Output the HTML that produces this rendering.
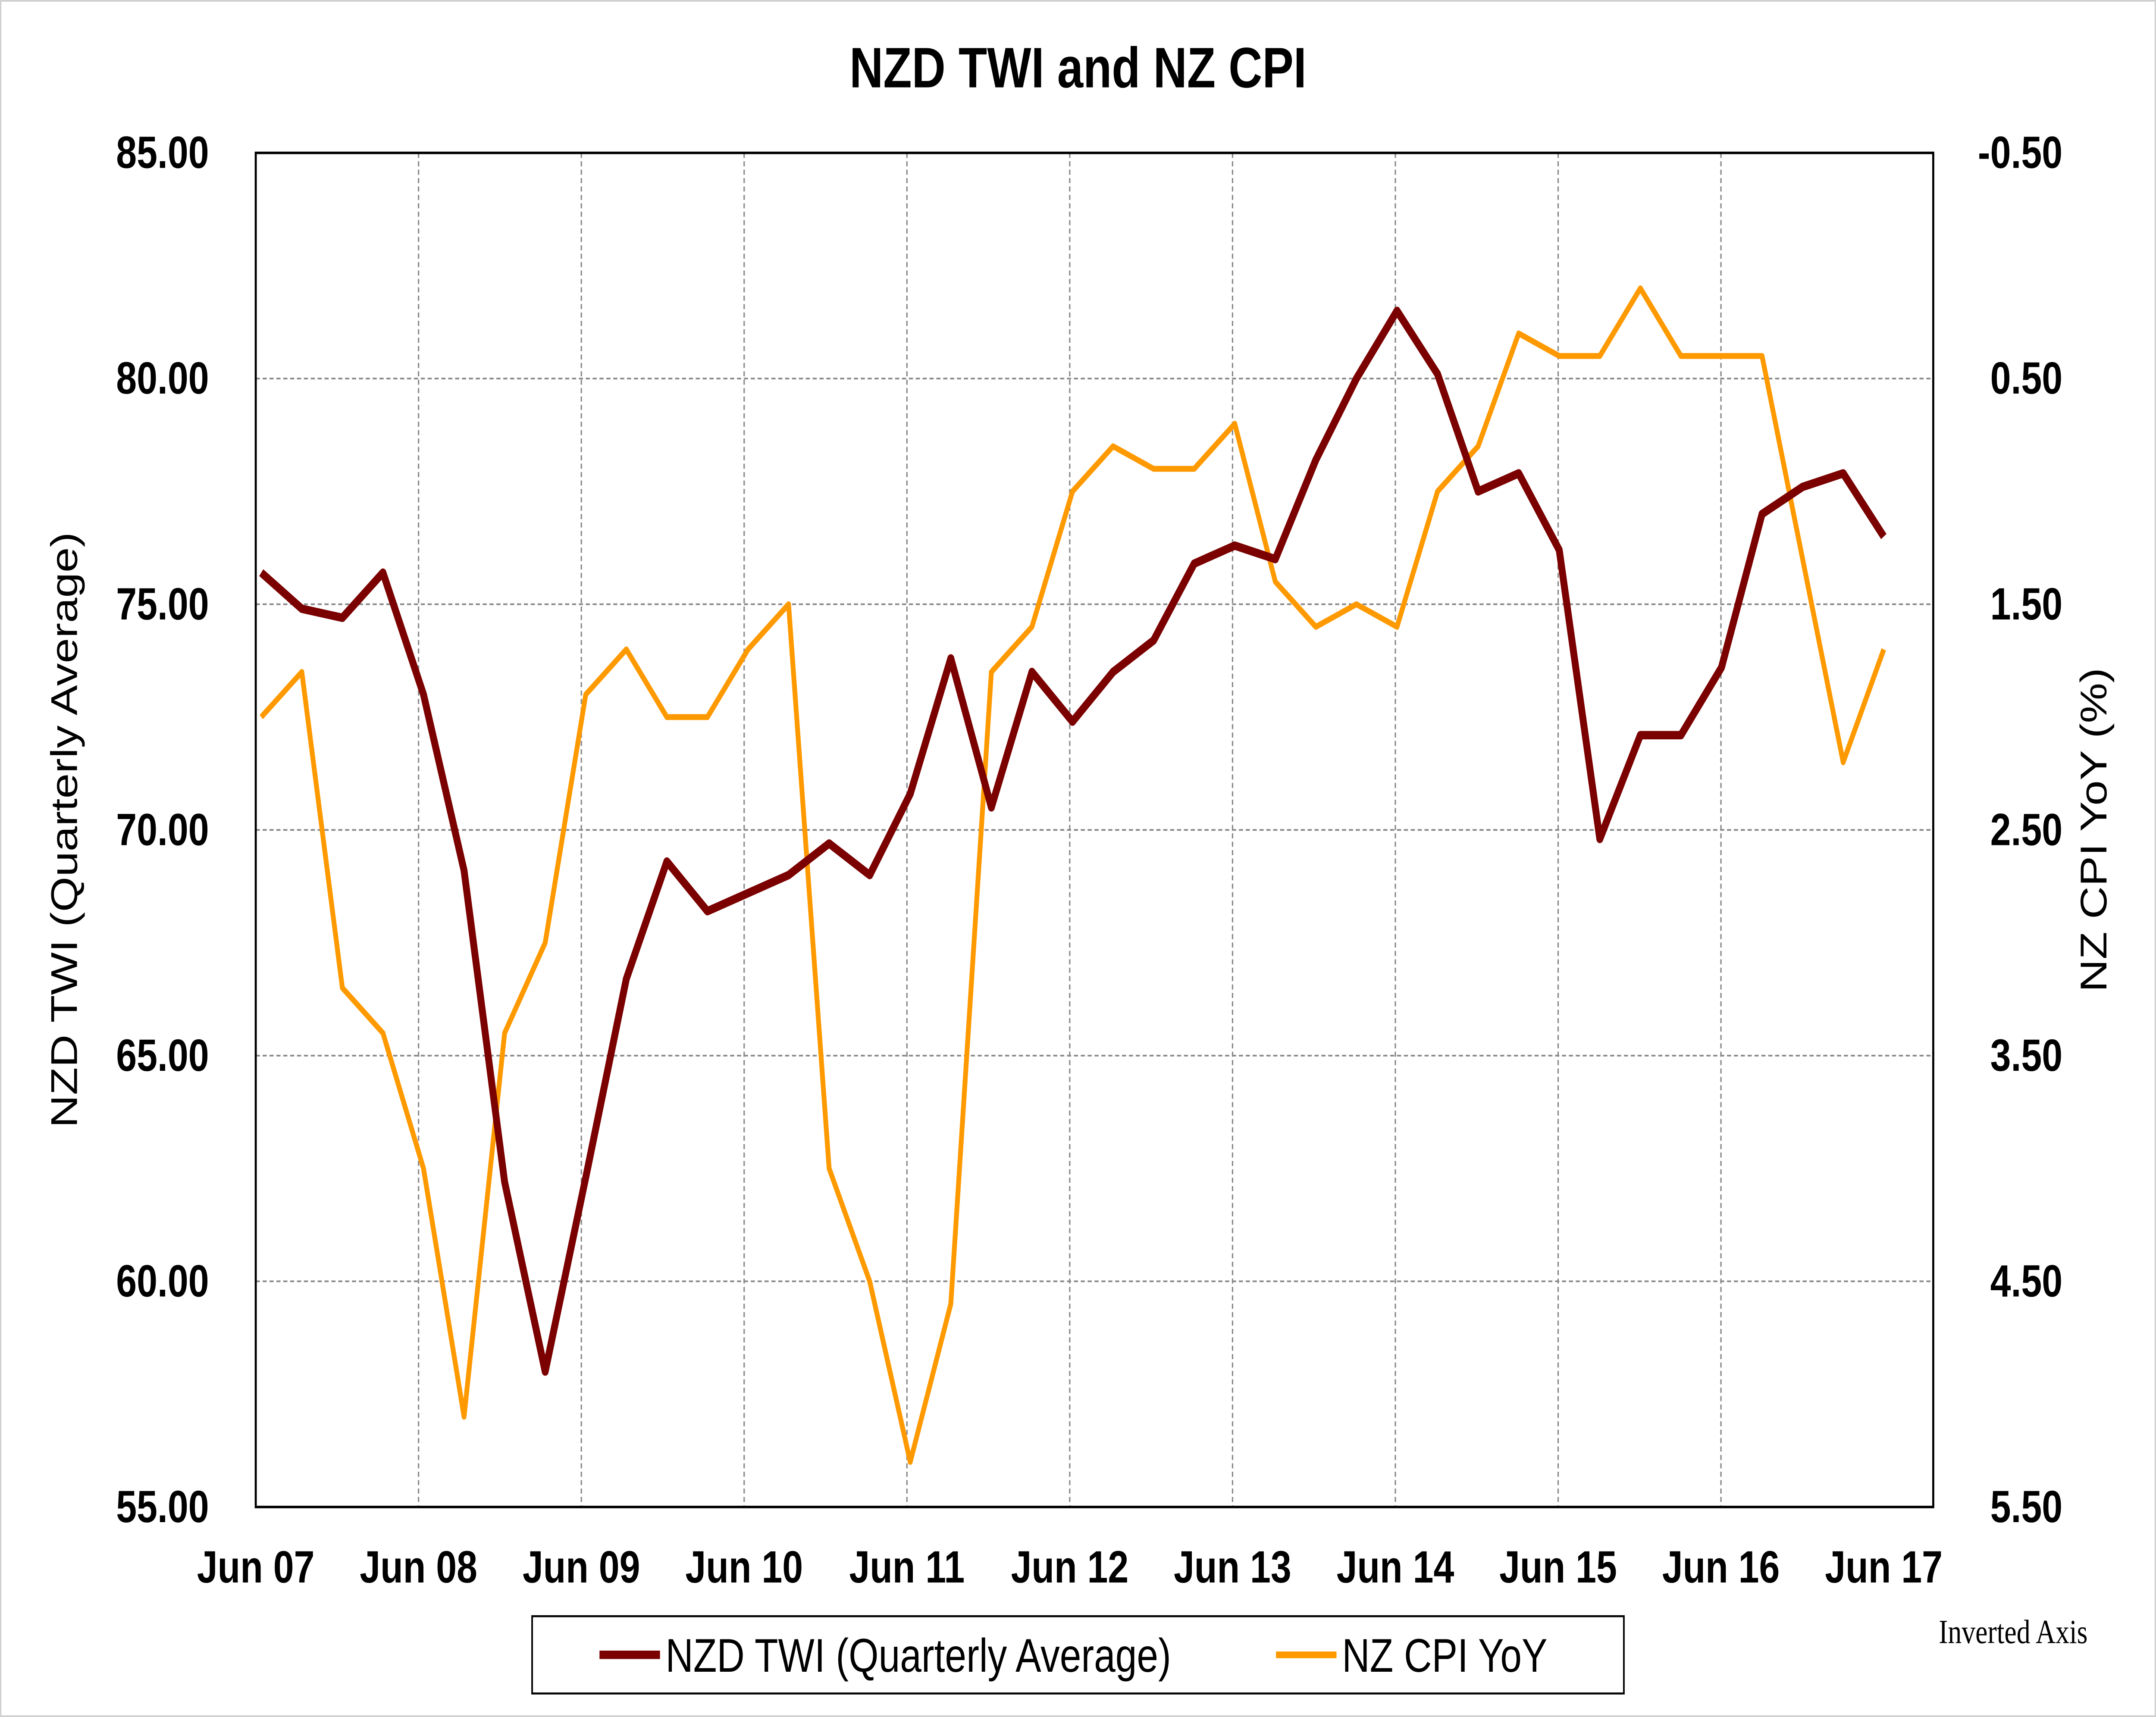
<!DOCTYPE html>
<html><head><meta charset="utf-8"><style>
html,body{margin:0;padding:0;background:#fff;width:100%;height:100%;overflow:hidden;}
svg{display:block;width:100vw;height:100vh;}
text{font-family:"Liberation Sans",Arial,sans-serif;}
</style></head><body>
<svg id="chart" viewBox="0 0 1568 1022" preserveAspectRatio="none" xmlns="http://www.w3.org/2000/svg">
<rect x="0.5" y="0.5" width="1567" height="1021" fill="#fff" stroke="#d0d0d0"/>
<text x="784" y="52" text-anchor="middle" font-size="34" font-weight="bold">NZD TWI and NZ CPI</text>
<g id="grid"></g>
<rect x="186" y="91" width="1220" height="806" fill="none" stroke="#000" stroke-width="1.5"/>
<g id="ticks"></g>
<g id="series"></g>
<text transform="translate(56,494) rotate(-90)" text-anchor="middle" font-size="27">NZD TWI (Quarterly Average)</text>
<text transform="translate(1532,494) rotate(-90)" text-anchor="middle" font-size="27">NZ CPI YoY (%)</text>
<g>
<rect x="387" y="962" width="794" height="46" fill="#fff" stroke="#000" stroke-width="1.2"/>
<line x1="436" y1="985" x2="480" y2="985" stroke="#7b0000" stroke-width="5"/>
<text x="484" y="995" font-size="28">NZD TWI (Quarterly Average)</text>
<line x1="928" y1="985" x2="972" y2="985" stroke="#ff9900" stroke-width="4"/>
<text x="976" y="995" font-size="28">NZ CPI YoY</text>
</g>
<text x="1410" y="978" font-size="20" style="font-family:'Liberation Serif',serif">Inverted Axis</text>
</svg>
<script>
const xLabels=["Jun 07","Jun 08","Jun 09","Jun 10","Jun 11","Jun 12","Jun 13","Jun 14","Jun 15","Jun 16","Jun 17"];
const leftTicks=[55,60,65,70,75,80,85];
const rightTicks=[-0.5,0.5,1.5,2.5,3.5,4.5,5.5];
const twi=[75.7,74.9,74.7,75.7,73.0,69.1,62.2,58.0,62.3,66.7,69.3,68.2,68.6,69.0,69.7,69.0,70.8,73.8,70.5,73.5,72.4,73.5,74.2,75.9,76.3,76.0,78.2,80.0,81.5,80.1,77.5,77.9,76.2,69.8,72.1,72.1,73.6,77.0,77.6,77.9,76.5];
const cpi=[2.0,1.8,3.2,3.4,4.0,5.1,3.4,3.0,1.9,1.7,2.0,2.0,1.7,1.5,4.0,4.5,5.3,4.6,1.8,1.6,1.0,0.8,0.9,0.9,0.7,1.4,1.6,1.5,1.6,1.0,0.8,0.3,0.4,0.4,0.1,0.4,0.4,0.4,1.3,2.2,1.7];
const NS="http://www.w3.org/2000/svg";
const X0=186,X1=1406,Y0=91,Y1=897;
const xq=i=>190+i*29.5;
const yl=v=>Y1-(v-55)/30*(Y1-Y0);
const yr=v=>Y0+(v+0.5)/6*(Y1-Y0);
function mk(t,a,p){const e=document.createElementNS(NS,t);for(const k in a)e.setAttribute(k,a[k]);p.appendChild(e);return e;}
const grid=document.getElementById('grid'),ticks=document.getElementById('ticks'),series=document.getElementById('series');
leftTicks.forEach((v,i)=>{
  const y=yl(v);
  if(i>0&&i<leftTicks.length-1){const g=mk('line',{x1:X0,x2:X1,y1:y,y2:y,stroke:'#888','stroke-width':1,'stroke-dasharray':'3,2'},grid);
  
  }
  const t=mk('text',{x:152,y:y+9,'text-anchor':'end','font-size':27,'font-weight':'bold'},ticks);t.textContent=v.toFixed(2);
  
  
});
rightTicks.forEach(v=>{
  const t=mk('text',{x:1500,y:yr(v)+9,'text-anchor':'end','font-size':27,'font-weight':'bold'},ticks);t.textContent=v.toFixed(2);
  
  
});
xLabels.forEach((s,k)=>{
  const x=X0+k*118.4;
  if(k>0&&k<10){const g=mk('line',{x1:x,x2:x,y1:Y0,y2:Y1,stroke:'#888','stroke-width':1,'stroke-dasharray':'3,2'},grid);
  
  }
  const t=mk('text',{x:x,y:942,'text-anchor':'middle','font-size':27,'font-weight':'bold'},ticks);t.textContent=s;
  
  
});
const pc=mk('polyline',{points:cpi.map((v,i)=>xq(i)+','+yr(v)).join(' '),fill:'none',stroke:'#ff9900','stroke-width':3.5,'stroke-linejoin':'round'},series);


const pt=mk('polyline',{points:twi.map((v,i)=>xq(i)+','+yl(v)).join(' '),fill:'none',stroke:'#7b0000','stroke-width':5,'stroke-linejoin':'round'},series);


</script>
</body></html>
